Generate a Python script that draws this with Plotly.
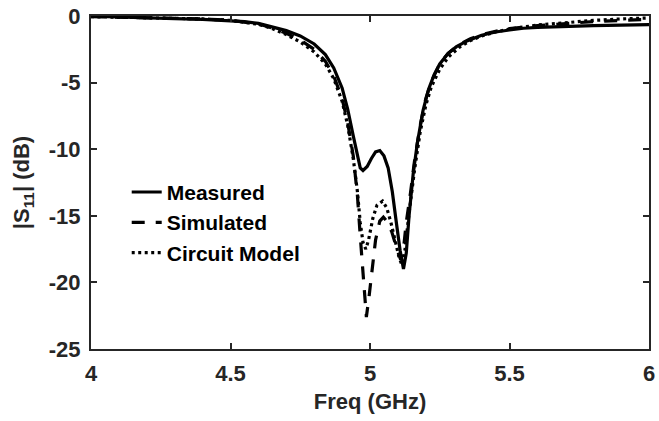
import plotly.graph_objects as go

# Measured |S11| response
meas_freq = [4.00, 4.10, 4.20, 4.30, 4.40, 4.50, 4.55, 4.60, 4.65, 4.70, 4.75, 4.80,
             4.84, 4.87, 4.90, 4.92, 4.94, 4.955, 4.965, 4.975, 4.99, 5.005, 5.02,
             5.035, 5.05, 5.065, 5.08, 5.095, 5.108, 5.12, 5.13, 5.14, 5.155, 5.17,
             5.19, 5.21, 5.23, 5.25, 5.28, 5.31, 5.35, 5.40, 5.45, 5.50, 5.55, 5.60,
             5.70, 5.80, 5.90, 6.00]
meas_s11 = [-0.02, -0.10, -0.15, -0.20, -0.25, -0.33, -0.42, -0.55, -0.80, -1.10, -1.50,
            -2.10, -2.90, -3.90, -5.40, -7.00, -9.00, -10.6, -11.4, -11.6, -11.3, -10.7,
            -10.2, -10.1, -10.5, -11.4, -13.2, -15.6, -17.6, -19.0, -17.8, -15.0, -11.8,
            -9.5, -7.1, -5.5, -4.4, -3.6, -2.8, -2.3, -1.85, -1.45, -1.2, -1.05, -0.92,
            -0.85, -0.77, -0.72, -0.68, -0.65]

# Full-wave simulation
sim_freq = [4.00, 4.20, 4.40, 4.50, 4.60, 4.65, 4.70, 4.75, 4.80, 4.84, 4.87, 4.90,
            4.92, 4.94, 4.955, 4.965, 4.975, 4.987, 4.997, 5.007, 5.02, 5.035, 5.048,
            5.06, 5.078, 5.095, 5.11, 5.12, 5.13, 5.145, 5.16, 5.18, 5.20, 5.22, 5.25,
            5.28, 5.32, 5.36, 5.40, 5.45, 5.50, 5.60, 5.70, 5.80, 5.90, 6.00]
sim_s11 = [-0.05, -0.12, -0.22, -0.32, -0.60, -0.90, -1.30, -1.80, -2.50, -3.40, -4.50,
           -6.20, -8.00, -10.5, -13.5, -16.5, -19.5, -22.6, -21.0, -19.2, -16.8, -15.4,
           -15.1, -15.4, -16.2, -17.4, -18.3, -17.5, -15.5, -13.3, -10.8, -8.2, -6.2,
           -4.9, -3.6, -2.8, -2.15, -1.7, -1.4, -1.15, -0.95, -0.72, -0.55, -0.42,
           -0.33, -0.25]

# Equivalent circuit model
ckt_freq = [4.00, 4.20, 4.40, 4.50, 4.60, 4.65, 4.70, 4.75, 4.80, 4.84, 4.87, 4.90,
            4.92, 4.94, 4.955, 4.965, 4.975, 4.985, 4.995, 5.01, 5.025, 5.045, 5.06,
            5.075, 5.09, 5.105, 5.115, 5.125, 5.14, 5.16, 5.18, 5.20, 5.22, 5.25, 5.28,
            5.32, 5.36, 5.40, 5.45, 5.50, 5.60, 5.70, 5.80, 5.90, 6.00]
ckt_s11 = [-0.05, -0.12, -0.22, -0.33, -0.62, -0.95, -1.40, -1.95, -2.70, -3.60, -4.70,
           -6.40, -8.20, -10.7, -13.2, -15.5, -17.0, -17.5, -16.8, -15.2, -14.2, -13.9,
           -14.4, -15.5, -16.9, -18.2, -18.7, -17.6, -14.8, -11.5, -8.7, -6.7, -5.3,
           -4.0, -3.1, -2.35, -1.85, -1.5, -1.2, -0.98, -0.68, -0.48, -0.33, -0.22,
           -0.15]

x_ticks = [4, 4.5, 5, 5.5, 6]
x_tick_labels = ["4", "4.5", "5", "5.5", "6"]
y_ticks = [-25, -20, -15, -10, -5, 0]

FONT = "Liberation Sans, Arial, Helvetica, sans-serif"
AXIS_COLOR = "#262626"
FS = 22

fig = go.Figure()
fig.add_trace(go.Scatter(x=meas_freq, y=meas_s11, mode="lines", name="<b>Measured</b>",
                         line=dict(color="black", width=3.2, dash="solid")))
fig.add_trace(go.Scatter(x=sim_freq, y=sim_s11, mode="lines", name="<b>Simulated</b>",
                         line=dict(color="black", width=3.2, dash="13px,11px")))
fig.add_trace(go.Scatter(x=ckt_freq, y=ckt_s11, mode="lines", name="<b>Circuit Model</b>",
                         line=dict(color="black", width=3.2, dash="3px,3.5px")))

axis_common = dict(
    showline=True, linecolor=AXIS_COLOR, linewidth=2, mirror="ticks",
    ticks="inside", ticklen=6, tickwidth=2, tickcolor=AXIS_COLOR,
    showgrid=False, zeroline=False, ticklabeloverflow="allow",
    tickfont=dict(family=FONT, size=FS, color=AXIS_COLOR),
)

fig.update_xaxes(range=[4, 6], tickvals=x_ticks, ticktext=[f"<b>{t}</b>" for t in x_tick_labels],
                 ticklabelstandoff=4,
                 title=dict(text="<b>Freq (GHz)</b>", font=dict(family=FONT, size=FS, color=AXIS_COLOR),
                            standoff=8),
                 **axis_common)
fig.update_yaxes(range=[-25, 0], tickvals=y_ticks, ticktext=[f"<b>{t}</b>" for t in y_ticks],
                 ticklabelstandoff=4,
                 title=dict(text="<b>|S<sub>11</sub>| (dB)</b>",
                            font=dict(family=FONT, size=FS, color=AXIS_COLOR), standoff=13),
                 **axis_common)

fig.update_layout(
    width=659, height=421,
    margin=dict(l=91, r=4, t=10, b=72),
    plot_bgcolor="white", paper_bgcolor="white",
    font=dict(family=FONT, size=FS, color="black"),
    legend=dict(x=0.064, y=0.532, xanchor="left", yanchor="top",
                bgcolor="rgba(0,0,0,0)", borderwidth=0,
                font=dict(family=FONT, size=21, color="black"),
                itemwidth=30, tracegroupgap=0),
)

fig.write_html("out.html")
